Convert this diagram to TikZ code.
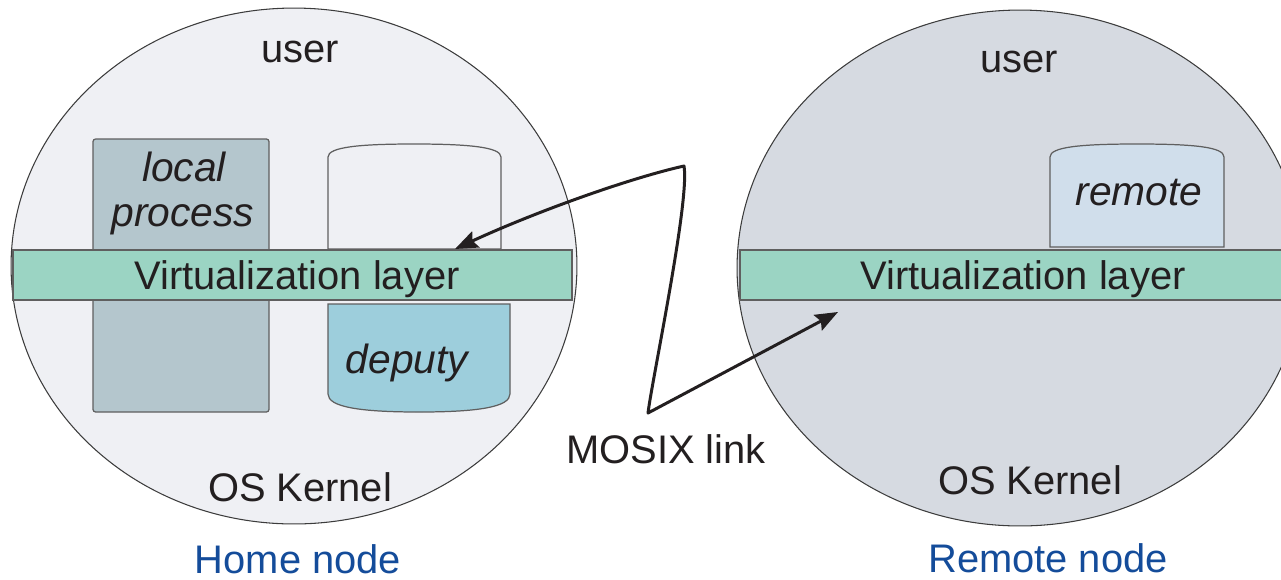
\documentclass[tikz,border=0pt]{standalone}
\usepackage{fontspec}
\setmainfont{Liberation Sans}
\usetikzlibrary{arrows.meta}
\definecolor{homefill}{RGB}{239,240,244}
\definecolor{remotefill}{RGB}{214,218,225}
\definecolor{localfill}{RGB}{180,198,205}
\definecolor{deputyfill}{RGB}{157,206,220}
\definecolor{remotebox}{RGB}{208,222,235}
\definecolor{bandfill}{RGB}{155,212,195}
\definecolor{linkblue}{RGB}{20,76,154}
\definecolor{ink}{RGB}{35,31,32}
\definecolor{edge}{RGB}{60,60,60}
\definecolor{boxedge}{RGB}{95,95,95}
\begin{document}
\begin{tikzpicture}[x=0.02cm,y=-0.02cm,
  txt/.style={font=\fontsize{22.7}{26}\selectfont, text=ink, inner sep=0pt, anchor=base},
  itxt/.style={txt, font=\fontsize{23.2}{26}\selectfont\itshape},
  caption/.style={txt, text=linkblue},
  nodecircle/.style={draw=edge, line width=0.6pt},
  procbox/.style={draw=boxedge, line width=0.7pt},
  band/.style={draw=boxedge, line width=0.7pt, fill=bandfill},
  link/.style={draw=ink, line width=1.7pt, line join=round,
    {Stealth[length=13pt,width=10pt,inset=2pt]}-{Stealth[length=13pt,width=10pt,inset=2pt]}}]
\useasboundingbox (0,0) rectangle (1281,579);
\clip (0,0) rectangle (1281,579);

% machine outlines
\filldraw[nodecircle, fill=homefill] (294,266) ellipse [x radius=5.66cm, y radius=5.16cm];
\filldraw[nodecircle, fill=remotefill] (1020,268) ellipse [x radius=5.66cm, y radius=5.16cm];

% processes on the home node
\filldraw[procbox, fill=localfill, rounded corners=1.5pt] (93,139) rectangle (269,412);
\filldraw[procbox, fill=homefill] (328,249) -- (328,157)
  .. controls (328,147) and (360,144) .. (414,144)
  .. controls (468,144) and (501,147) .. (501,157) -- (501,249) -- cycle;
\filldraw[procbox, fill=deputyfill] (328,304) -- (328,394)
  .. controls (328,407) and (360,412) .. (419,412)
  .. controls (478,412) and (510,407) .. (510,394) -- (510,304) -- cycle;

% process on the remote node
\filldraw[procbox, fill=remotebox] (1050,247) -- (1050,157)
  .. controls (1050,147) and (1080,144) .. (1137,144)
  .. controls (1194,144) and (1224,147) .. (1224,157) -- (1224,247) -- cycle;

% virtualization layers
\filldraw[band] (13,250) rectangle (572,300);
\filldraw[band] (740,250) rectangle (1300,300);

% labels
\node[txt] (userH) at (300,62) {user};
\node[txt] (userR) at (1019,72) {user};
\node[itxt] (localA) at (184,181) {local};
\node[itxt] (localB) at (183,226) {process};
\node[itxt] (deputy) at (407,373) {deputy};
\node[itxt] (remote) at (1139,205) {remote};
\node[txt] (virtH) at (297,289) {Virtualization layer};
\node[txt] (virtR) at (1023,289) {Virtualization layer};
\node[txt] (kernH) at (300,501) {OS Kernel};
\node[txt] (kernR) at (1030,494) {OS Kernel};
\node[txt] (mosix) at (666,463) {MOSIX link};
\node[caption] (home) at (298,573) {Home node};
\node[caption] (remoteN) at (1048,572) {Remote node};

% MOSIX link between deputy side and remote side
\coordinate (tipA) at (455,249);
\coordinate (bendA) at (684,166);
\coordinate (bendB) at (648,413);
\coordinate (tipB) at (838,312);
\draw[link] (tipA) .. controls (535,212) and (630,178) .. (bendA)
  .. controls (690,200) and (652,380) .. (bendB) -- (tipB);
\end{tikzpicture}
\end{document}
